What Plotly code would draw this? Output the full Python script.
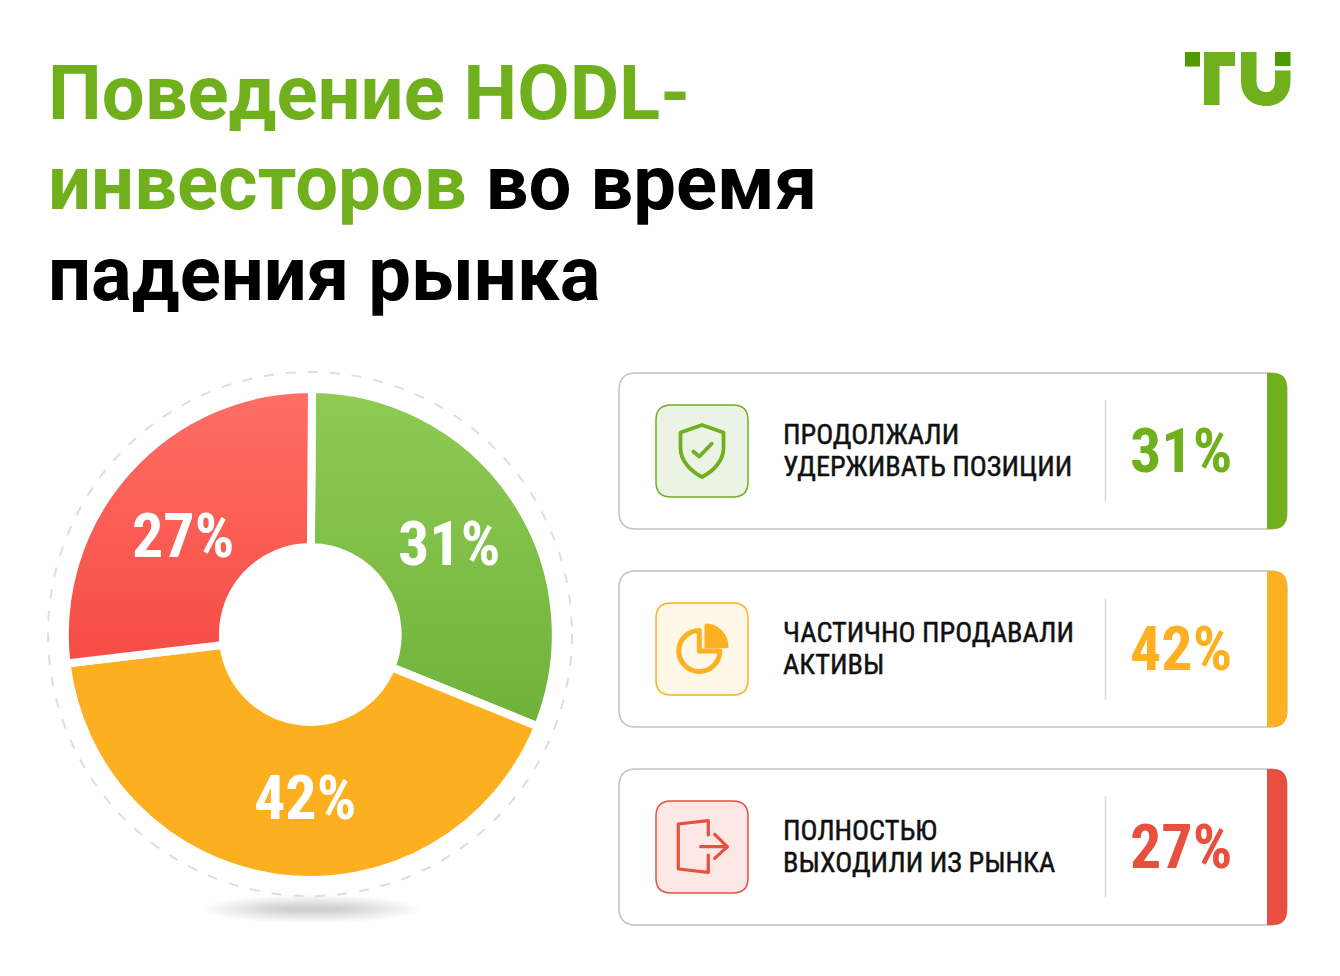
import plotly.graph_objects as go

W, H = 1340, 976

# Survey figures
categories = ["Продолжали удерживать позиции", "Частично продавали активы", "Полностью выходили из рынка"]
values = [31, 42, 27]
slice_colors = ["#7DBC46", "#FDB01F", "#FA5C53"]
accent_colors = ["#6FB01C", "#FDB022", "#E8503E"]
tint_colors = ["#EBF4E4", "#FFF7E8", "#FEE8E6"]
card_lines = [["ПРОДОЛЖАЛИ", "УДЕРЖИВАТЬ ПОЗИЦИИ"], ["ЧАСТИЧНО ПРОДАВАЛИ", "АКТИВЫ"], ["ПОЛНОСТЬЮ", "ВЫХОДИЛИ ИЗ РЫНКА"]]
label_centres = [(449, 543), (305, 797), (183, 535)]
card_tops = [373, 571, 769]
GREEN = "#6FB01C"
DARK_GREEN = "#4F9A00"
title_lines = [
    (f'<span style="color:{GREEN}">Поведение HODL-</span>', 93.5),
    (f'<span style="color:{GREEN}">инвесторов</span> во время', 183.5),
    ('падения рынка', 273.5),
]
NARROW = "Roboto Condensed"


def fx(x):
    return x / W


def fy(y):
    return 1 - y / H


def P(*parts):
    """Build a paper-space SVG path from pixel-style tokens: commands and (x, y) pairs."""
    out = []
    for p in parts:
        out.append(p if isinstance(p, str) else f"{fx(p[0]):.5f},{fy(p[1]):.5f}")
    return " ".join(out)


def round_rect(x0, y0, x1, y1, r):
    return P("M", (x0 + r, y0), "L", (x1 - r, y0), "Q", (x1, y0), (x1, y0 + r), "L", (x1, y1 - r),
             "Q", (x1, y1), (x1 - r, y1), "L", (x0 + r, y1), "Q", (x0, y1), (x0, y1 - r),
             "L", (x0, y0 + r), "Q", (x0, y0), (x0 + r, y0), "Z")


def path(d, line=None, width=0, fill="rgba(0,0,0,0)"):
    return dict(type="path", xref="paper", yref="paper", path=d, fillcolor=fill,
                line=dict(color=line or "rgba(0,0,0,0)", width=width))


def oval(cx, cy, rx, ry, **kw):
    return dict(type="circle", xref="paper", yref="paper", x0=fx(cx - rx), x1=fx(cx + rx),
                y0=fy(cy + ry), y1=fy(cy - ry), **kw)


def text(x, y, s, size, color, family="Roboto", weight=400, anchor="left"):
    return dict(xref="paper", yref="paper", x=fx(x), y=fy(y), text=s, showarrow=False,
                xanchor=anchor, yanchor="middle", borderpad=0,
                font=dict(family=family, size=size, color=color, weight=weight))


shapes = []

# Soft floor shadow beneath the ring, built up from stacked translucent ellipses
for step in range(16):
    shapes.append(oval(311, 909, 108 - step * 5, 14 - step * 0.8,
                       fillcolor="rgba(90,90,90,0.014)", line=dict(width=0)))

# Dashed halo around the donut
shapes.append(oval(310, 634, 262, 262, line=dict(color="#DEDEDE", width=2, dash="10px,12px"),
                   fillcolor="rgba(0,0,0,0)"))

# Cards
for i, top in enumerate(card_tops):
    bottom = top + 156
    c = accent_colors[i]
    shapes.append(path(round_rect(619, top, 1287, bottom, 17), line="#C2C2C2", width=1.5, fill="#FFFFFF"))
    shapes.append(path(P("M", (1267, top), "L", (1273, top), "Q", (1287, top), (1287, top + 15),
                         "L", (1287, bottom - 15), "Q", (1287, bottom), (1273, bottom),
                         "L", (1267, bottom), "Z"), fill=c))
    shapes.append(dict(type="line", xref="paper", yref="paper", x0=fx(1105.5), x1=fx(1105.5),
                       y0=fy(top + 28), y1=fy(top + 128), line=dict(color="#D9D9D9", width=1.5)))
    shapes.append(path(round_rect(656, top + 32, 748, top + 124, 15), line=c, width=1.5, fill=tint_colors[i]))

# Shield glyph
shapes.append(path(P("M", (702, 425), "L", (723.5, 432.5), "L", (723.5, 448), "C", (723.5, 461), (713, 471.5), (702, 477),
                     "C", (691, 471.5), (680.5, 461), (680.5, 448), "L", (680.5, 432.5), "Z"),
                   line=accent_colors[0], width=3.8))
shapes.append(path(P("M", (693.3, 451.5), "L", (699.3, 456.5), "L", (711.7, 443.7)), line=accent_colors[0], width=3.8))

# Pie glyph
o = accent_colors[1]
shapes.append(path(P("M", (699.3, 630.5), "C", (688, 630.5), (678.8, 639.7), (678.8, 651),
                     "C", (678.8, 662.3), (688, 671.5), (699.3, 671.5),
                     "C", (710.6, 671.5), (719.8, 662.3), (719.8, 651),
                     "L", (699.3, 651), "Z"), line=o, width=5))
shapes.append(path(P("M", (706, 646.7), "L", (706, 625), "C", (717.5, 625), (727, 635), (727, 646.7), "Z"),
                   line=o, width=3, fill=o))

# Exit glyph
r = accent_colors[2]
shapes.append(path(P("M", (708.3, 835), "L", (708.3, 820.7), "L", (678.3, 824), "L", (678.3, 869),
                     "L", (708.3, 872.3), "L", (708.3, 855)), line=r, width=3.2))
shapes.append(path(P("M", (700.7, 846.7), "L", (727.3, 846.7)), line=r, width=3.2))
shapes.append(path(P("M", (714.7, 834.3), "L", (727.3, 846.7), "L", (714.7, 858.3)), line=r, width=3.2))

# Brand mark
shapes.append(path(P("M", (1185, 52), "L", (1200, 52), "L", (1200, 66.5), "L", (1185, 66.5), "Z"), fill=DARK_GREEN))
shapes.append(path(P("M", (1204, 52), "L", (1235, 52), "L", (1235, 66), "L", (1219.5, 66), "L", (1219.5, 105),
                     "L", (1204, 105), "Z"), fill=GREEN))
shapes.append(path(P("M", (1241, 52), "L", (1256.5, 52), "L", (1256.5, 81), "C", (1256.5, 88), (1260, 92), (1266, 92),
                     "C", (1272, 92), (1275, 88), (1275, 81), "L", (1275, 70.5), "L", (1290.5, 70.5), "L", (1290.5, 81),
                     "C", (1290.5, 97), (1280, 106), (1266, 106), "C", (1252, 106), (1241, 97), (1241, 81), "Z"), fill=GREEN))
shapes.append(path(P("M", (1275, 52), "L", (1290.5, 52), "L", (1290.5, 66), "L", (1275, 66), "Z"), fill=DARK_GREEN))

annotations = []
for s, y in title_lines:
    annotations.append(text(46.5, y, s, 76, "#000000", weight=700))

for (x, y), v in zip(label_centres, values):
    annotations.append(text(x, y, f"{v}%", 62, "#FFFFFF", family=NARROW, weight=700, anchor="center"))

CARD_TEXT_SIZE = 28.3
for i, top in enumerate(card_tops):
    annotations.append(text(782, top + 61.5, card_lines[i][0], CARD_TEXT_SIZE, "#111111", family=NARROW))
    annotations.append(text(782, top + 93.5, card_lines[i][1], CARD_TEXT_SIZE, "#111111", family=NARROW))
    annotations.append(text(1181, top + 77.5, f"{values[i]}%", 62, accent_colors[i], family=NARROW, weight=700, anchor="center"))

CX, CY, R = 310.3, 634.5, 245.5
fig = go.Figure(go.Pie(
    labels=categories, values=values, sort=False, direction="clockwise", rotation=0.4,
    hole=0.356, textinfo="none", hoverinfo="skip", showlegend=False,
    marker=dict(colors=slice_colors, line=dict(color="#FFFFFF", width=8)),
    domain=dict(x=[fx(CX - R), fx(CX + R)], y=[fy(CY + R), fy(CY - R)]),
))
fig.update_layout(width=W, height=H, margin=dict(l=0, r=0, t=0, b=0), paper_bgcolor="#FFFFFF",
                  plot_bgcolor="#FFFFFF", shapes=shapes, annotations=annotations, showlegend=False)

# Vertical gradients on the green and red slices, rounded joins on the solid outlines,
# and a hairline stroke that gives the card captions a medium weight
finish_js = """
var gd = document.getElementById('{plot_id}');
var svg = gd.querySelector('svg.main-svg');
var NS = 'http://www.w3.org/2000/svg';
var defs = document.createElementNS(NS, 'defs');
var spec = [['sliceGreen', '#8FCB55', '#6FB23A'], null, ['sliceRed', '#FF6F64', '#F54C45']];
spec.forEach(function (s) {
  if (!s) return;
  var g = document.createElementNS(NS, 'linearGradient');
  g.setAttribute('id', s[0]);
  g.setAttribute('x1', '0'); g.setAttribute('y1', '0'); g.setAttribute('x2', '0'); g.setAttribute('y2', '1');
  [[0, s[1]], [1, s[2]]].forEach(function (st) {
    var e = document.createElementNS(NS, 'stop');
    e.setAttribute('offset', st[0]); e.setAttribute('stop-color', st[1]);
    g.appendChild(e);
  });
  defs.appendChild(g);
});
svg.insertBefore(defs, svg.firstChild);
gd.querySelectorAll('.slice path.surface').forEach(function (p, i) {
  if (spec[i]) p.style.fill = 'url(#' + spec[i][0] + ')';
});
gd.querySelectorAll('.shapelayer path').forEach(function (p) {
  var dash = p.style.strokeDasharray;
  if (!dash || dash === 'none' || dash === '0px') {
    p.style.strokeLinejoin = 'round';
    p.style.strokeLinecap = 'round';
  }
});
gd.querySelectorAll('.annotation-text').forEach(function (t) {
  if (parseFloat(t.style.fontSize) < 30) {
    t.style.stroke = '#111111';
    t.style.strokeWidth = '0.45px';
  }
});
"""
fig.write_html("out.html", post_script=finish_js)
